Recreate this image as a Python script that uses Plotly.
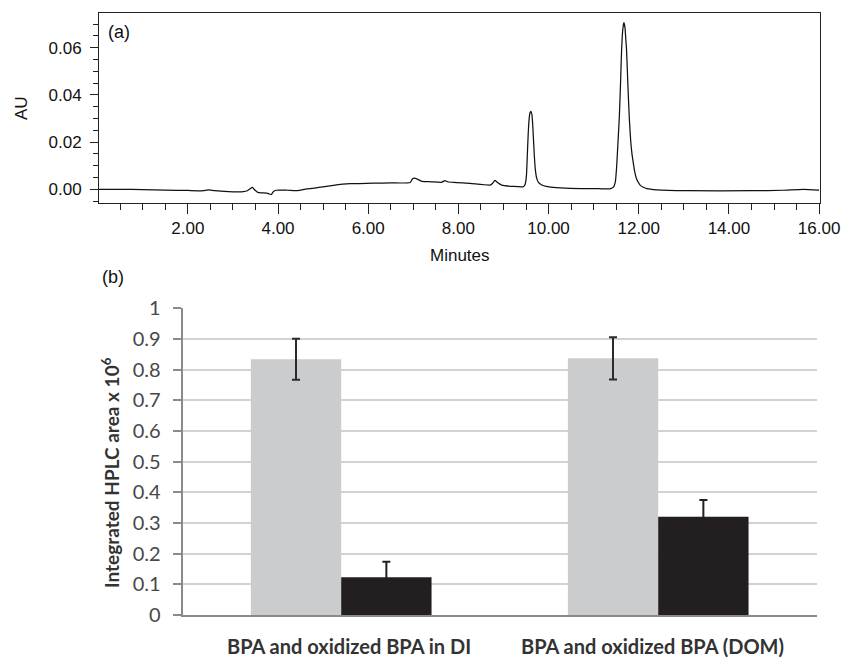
import plotly.graph_objects as go

# ---------------- (a) chromatogram data ----------------
time_min = [0.03, 0.50, 1.00, 1.50, 2.00, 2.34, 2.42, 2.48, 2.60, 2.90, 3.23, 3.32, 3.38, 3.43, 3.48,
            3.55, 3.65, 3.75, 3.80, 3.85, 3.90, 3.96, 4.20, 4.42, 4.64, 5.00, 5.23, 5.60, 5.80, 6.12,
            6.50, 6.93, 6.98, 7.02, 7.09, 7.19, 7.40, 7.63, 7.70, 7.76, 7.90, 8.26, 8.70, 8.76, 8.81,
            8.86, 8.96, 9.22, 9.44, 9.48, 9.51, 9.53, 9.55, 9.57, 9.59, 9.61, 9.63, 9.65, 9.67, 9.69,
            9.71, 9.74, 9.78, 9.85, 9.95, 10.10, 10.48, 11.00, 11.36, 11.44, 11.48, 11.51, 11.54, 11.57,
            11.60, 11.62, 11.645, 11.67, 11.695, 11.71, 11.73, 11.76, 11.79, 11.82, 11.85, 11.87, 11.91,
            11.96, 12.03, 12.10, 12.18, 12.40, 13.06, 14.54, 15.20, 15.65, 16.00]
au = [0.0000, 0.0000, -0.0001, -0.0003, -0.0005, -0.0006, -0.0003, -0.0002, -0.0006, -0.0010, -0.0010,
      -0.0006, 0.0002, 0.0008, -0.0002, -0.0013, -0.0015, -0.0016, -0.0019, -0.0022, -0.0009, -0.0004,
      -0.0004, -0.0006, 0.0002, 0.0010, 0.0017, 0.0024, 0.0024, 0.0026, 0.0027, 0.0029, 0.0044, 0.0047,
      0.0043, 0.0034, 0.0032, 0.0030, 0.0037, 0.0032, 0.0029, 0.0025, 0.0018, 0.0026, 0.0038, 0.0030,
      0.0018, 0.0012, 0.0011, 0.0020, 0.0060, 0.0150, 0.0240, 0.0300, 0.0325, 0.0330, 0.0318, 0.0270,
      0.0195, 0.0125, 0.0078, 0.0045, 0.0028, 0.0018, 0.0012, 0.0008, 0.0004, 0.0003, 0.0002, 0.0009,
      0.0030, 0.0096, 0.0200, 0.0308, 0.0470, 0.0590, 0.0675, 0.0706, 0.0685, 0.0645, 0.0590, 0.0440,
      0.0305, 0.0210, 0.0150, 0.0124, 0.0075, 0.0040, 0.0018, 0.0009, 0.0003, -0.0002, -0.0006, -0.0006,
      -0.0004, 0.0000, -0.0003]
x_ticks_a = [2, 4, 6, 8, 10, 12, 14, 16]
y_ticks_a = [0.00, 0.02, 0.04, 0.06]

# ---------------- (b) bar chart data ----------------
categories = ["BPA and oxidized BPA in DI", "BPA and oxidized BPA (DOM)"]
gray_values = [0.834, 0.837]
gray_errors = [0.067, 0.069]
black_values = [0.123, 0.320]
black_errors = [0.051, 0.055]
y_ticks_b = [0, 0.1, 0.2, 0.3, 0.4, 0.5, 0.6, 0.7, 0.8, 0.9, 1]
y_tick_text_b = ["0", "0.1", "0.2", "0.3", "0.4", "0.5", "0.6", "0.7", "0.8", "0.9", "1"]

W, H = 842, 660


def px_x(p):
    return p / W


def px_y(p):
    return 1 - p / H


fig = go.Figure()

fig.add_trace(go.Scatter(
    x=time_min, y=au, mode="lines",
    line=dict(color="#111111", width=1.25, shape="spline", smoothing=0.5),
    xaxis="x", yaxis="y", showlegend=False, hoverinfo="skip"))

fig.add_trace(go.Bar(
    x=categories, y=gray_values, marker=dict(color="#cbcccd", line=dict(width=0)),
    error_y=dict(type="data", array=gray_errors, color="#2b2b2b", thickness=2, width=4),
    xaxis="x2", yaxis="y2", showlegend=False, name="BPA"))
fig.add_trace(go.Bar(
    x=categories, y=black_values, marker=dict(color="#231f20", line=dict(width=0)),
    error_y=dict(type="data", array=black_errors, color="#231f20", thickness=2, width=4),
    xaxis="x2", yaxis="y2", showlegend=False, name="Oxidized BPA"))

arial = "Liberation Sans, Arial, sans-serif"
cal = "Lato, Open Sans, sans-serif"


def ann(text, x, y, font, angle=0):
    return dict(text=text, x=px_x(x), y=px_y(y), xref="paper", yref="paper", showarrow=False,
                xanchor="center", yanchor="middle", textangle=angle, font=font)


cat_font = dict(family=cal, size=20, color="#333333", weight="bold")
cat_shifts = [8, -6]
cat_annotations = [
    dict(text=c, x=c, xref="x2", y=px_y(646), yref="paper", showarrow=False,
         xanchor="center", yanchor="middle", xshift=s, borderpad=0, font=cat_font)
    for c, s in zip(categories, cat_shifts)
]

fig.update_layout(
    template="none",
    width=W, height=H,
    margin=dict(l=0, r=0, t=0, b=0, pad=0),
    paper_bgcolor="white", plot_bgcolor="white",
    barmode="group", bargap=0.43, bargroupgap=0,
    xaxis=dict(
        domain=[px_x(99), px_x(820)], range=[0.03, 16.02], anchor="y", automargin=False,
        tickvals=x_ticks_a, tickformat=".2f", ticks="outside", ticklen=10, tickwidth=1,
        tickcolor="#222", showline=True, linecolor="#222", linewidth=1, mirror=True,
        showgrid=False, zeroline=False,
        tickfont=dict(family=arial, size=17, color="#111"),
        minor=dict(dtick=0.5, ticks="outside", ticklen=6, tickwidth=1, tickcolor="#222", showgrid=False),
    ),
    yaxis=dict(
        domain=[px_y(203), px_y(13)], range=[-0.0058, 0.0747], anchor="x", automargin=False,
        tickvals=y_ticks_a, tickformat=".2f", ticks="outside", ticklen=8, tickwidth=1,
        tickcolor="#222", showline=True, linecolor="#222", linewidth=1, mirror=True,
        showgrid=False, zeroline=False, ticklabelstandoff=5,
        tickfont=dict(family=arial, size=17, color="#111"),
        minor=dict(dtick=0.005, ticks="outside", ticklen=5, tickwidth=1, tickcolor="#222", showgrid=False),
    ),
    xaxis2=dict(
        domain=[px_x(182.7), px_x(816.7)], anchor="y2", automargin=False,
        showline=True, linecolor="#8a8a8a", linewidth=2, ticks="", showticklabels=False,
        showgrid=False, zeroline=False,
    ),
    yaxis2=dict(
        domain=[px_y(615), px_y(308.3)], range=[0, 1.0], anchor="x2", automargin=False,
        tickvals=y_ticks_b, ticktext=y_tick_text_b, ticks="outside", ticklen=8, tickwidth=1.5,
        tickcolor="#8a8a8a", showline=True, linecolor="#8a8a8a", linewidth=2,
        showgrid=True, gridcolor="#d2d2d2", gridwidth=1.5, zeroline=False, ticklabelstandoff=8,
        tickfont=dict(family=cal, size=20, color="#484848"),
    ),
    annotations=[
        ann("AU", 22, 108, dict(family=arial, size=17, color="#111"), -90),
        ann("Minutes", 460, 255, dict(family=arial, size=17, color="#111")),
        ann("(a)", 119, 32, dict(family=arial, size=18, color="#111")),
        ann("(b)", 113, 277, dict(family=arial, size=18, color="#111")),
        ann("Integrated HPLC area x 10<sup>6</sup>", 110, 472,
            dict(family=cal, size=19, color="#333333", weight="bold"), -90),
    ] + cat_annotations,
)

fig.write_html(
    "out.html",
    config={"displayModeBar": False},
    post_script="document.body.style.margin='0';document.body.style.overflow='hidden';",
)
